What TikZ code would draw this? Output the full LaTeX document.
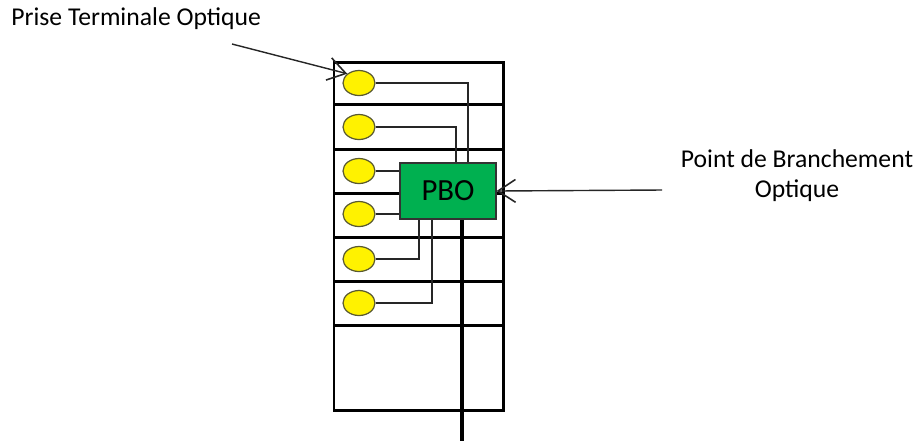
\documentclass[tikz,border=0pt]{standalone}
\usepackage{fontspec}
\setmainfont{Carlito}
\usepackage{tikz}
\usetikzlibrary{shapes,arrows.meta}
\usetikzlibrary{positioning}
\definecolor{pbogreen}{HTML}{00B050}
\definecolor{ptoline}{HTML}{5A5A30}
\tikzset{x=0.02cm, y=-0.02cm, font=\fontsize{14.6}{17}\selectfont}
\tikzstyle{pto} = [draw=ptoline, fill=yellow, ellipse, minimum width=0.64cm, minimum height=0.5cm, inner sep=0pt, line width=0.7pt]
\tikzstyle{pbo} = [draw=black!80, fill=pbogreen, rectangle, minimum width=1.92cm, minimum height=1.12cm, font=\fontsize{17.5}{17.5}\selectfont, line width=0.6pt]
\tikzstyle{floor} = [line width=1.7pt]
\tikzstyle{wire} = [line width=0.7pt, black!85]
\tikzstyle{riser} = [line width=2.4pt]
\tikzstyle{callout} = [line width=0.8pt, black!85, -{Straight Barb[length=10pt, width=13pt, line width=0.9pt]}]

\begin{document}
\begin{tikzpicture}
    \useasboundingbox (0,0) rectangle (919,441);

    % the building and its floors
    \draw [floor] (334,62) rectangle (503,410);
    \draw [floor] (334,104) -- (503,104);
    \draw [floor] (334,149) -- (503,149);
    \draw [floor] (334,193) -- (503,193);
    \draw [floor] (334,237) -- (503,237);
    \draw [floor] (334,281) -- (503,281);
    \draw [floor] (334,325) -- (503,325);

    % one outlet per floor
    \node [pto] (pto1) at (359,83) {};
    \node [pto] (pto2) at (359,127) {};
    \node [pto] (pto3) at (359,171) {};
    \node [pto] (pto4) at (359,214) {};
    \node [pto] (pto5) at (359,259) {};
    \node [pto] (pto6) at (359,303) {};

    \coordinate (riser_end) at (462,441);
    \draw [riser] (462,219) -- (riser_end);

    \node [pbo] (pbo) at (448,191) {PBO};

    \draw [wire] (pto1.east) -| ([xshift=0.4cm]pbo.north);
    \draw [wire] (pto2.east) -| ([xshift=0.16cm]pbo.north);
    \draw [wire] (pto3.east) -- (pto3.east -| pbo.west);
    \draw [wire] (pto4.east) -- (pto4.east -| pbo.west);
    \draw [wire] (pto5.east) -| ([xshift=-0.58cm]pbo.south);
    \draw [wire] (pto6.east) -| ([xshift=-0.32cm]pbo.south);

    % captions
    \node [anchor=west, inner sep=0pt] (pto_label) at (11,19) {Prise Terminale Optique};
    \coordinate (pto_tail) at (232,44);
    \draw [callout] (pto_tail) -- (pto1.north west);

    \node [align=center, inner sep=0pt] (pbo_label) at (797,176) {Point de Branchement\\Optique};
    \coordinate (pbo_tail) at (662,190);
    \draw [callout] (pbo_tail) -- (pbo.east);
\end{tikzpicture}
\end{document}
